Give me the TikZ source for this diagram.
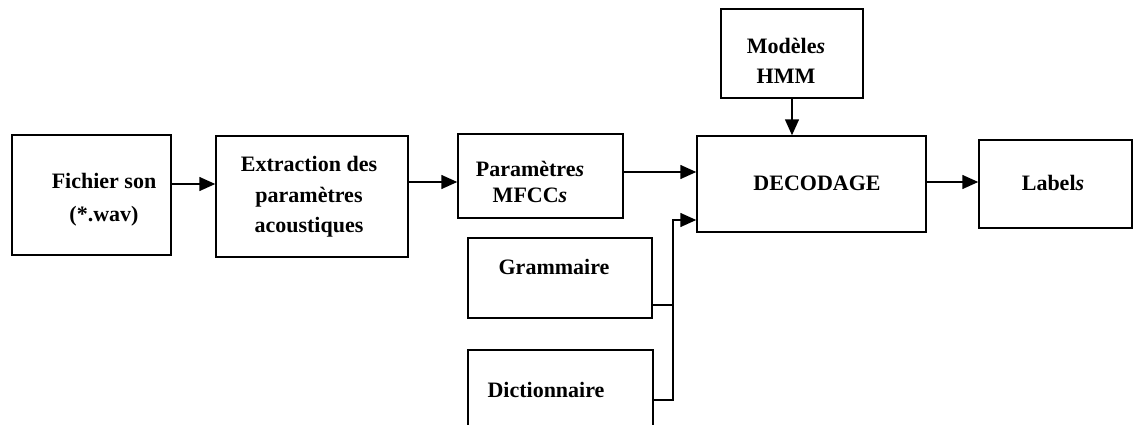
\documentclass[tikz,border=0pt]{standalone}
\usepackage{fontspec}
\setmainfont{Liberation Serif}
\usetikzlibrary{arrows.meta,fit}
\newcommand{\its}{\textit{s}}
\begin{document}
\begin{tikzpicture}[x=0.75pt,y=-0.75pt,
  box/.style={draw,line width=1.1pt,inner sep=0pt},
  lbl/.style={align=center,font=\bfseries\fontsize{16.5}{23}\selectfont,inner sep=0pt},
  arr/.style={line width=1.1pt,-{Triangle[length=12pt,width=10.5pt]}},
  ln/.style={line width=1.1pt}]
\useasboundingbox (0,0) rectangle (1133,425);
\clip (0,0) rectangle (1133,425);
% boxes
\node[box,fit={(12,135) (171,255)}] (fichier) {};
\node[box,fit={(216,136) (408,257)}] (extract) {};
\node[box,fit={(458,134) (623,218)}] (params) {};
\node[box,fit={(468,238) (652,318)}] (gram) {};
\node[box,fit={(468,350) (653,445)}] (dict) {};
\node[box,fit={(721,9) (863,98)}] (hmm) {};
\node[box,fit={(697,136) (926,232)}] (decod) {};
\node[box,fit={(979,140) (1132,228)}] (labels) {};
% texts
\node[lbl,font=\bfseries\fontsize{16.5}{25}\selectfont] (tfichier) at (104,200) {Fichier son\\(*.wav)};
\node[lbl] (textract) at (309,197) {Extraction des\\paramètres\\acoustiques};
\node[lbl,font=\bfseries\fontsize{16.5}{20}\selectfont] (tparams) at (530,182) {Paramètre\its\\MFCC\its};
\node[lbl] (tgram) at (554,267) {Grammaire};
\node[lbl] (tdict) at (546,390) {Dictionnaire};
\node[lbl,font=\bfseries\fontsize{16.5}{22.5}\selectfont] (thmm) at (786,61) {Modèle\its\\HMM};
\node[lbl] (tdecod) at (817,183) {DECODAGE};
\node[lbl] (tlabels) at (1053,183) {Label\its};
% helper coordinates
\coordinate (c184) at (0,184);
\coordinate (c182) at (0,182);
\coordinate (c172) at (0,172);
\coordinate (c220) at (0,220);
\coordinate (c400) at (0,400);
\coordinate (j) at (673,305);
% connectors
\draw[arr] (fichier.east |- c184) -- (extract.west |- c184);
\draw[arr] (extract.east |- c182) -- (params.west |- c182);
\draw[arr] (params.east |- c172) -- (decod.west |- c172);
\draw[ln] (gram.east |- j) -- (j);
\draw[ln] (dict.east |- c400) -| (j);
\draw[arr] (j) |- (decod.west |- c220);
\draw[arr] (hmm.south) -- (decod.north -| hmm.south);
\draw[arr] (decod.east |- c182) -- (labels.west |- c182);
\end{tikzpicture}
\end{document}
